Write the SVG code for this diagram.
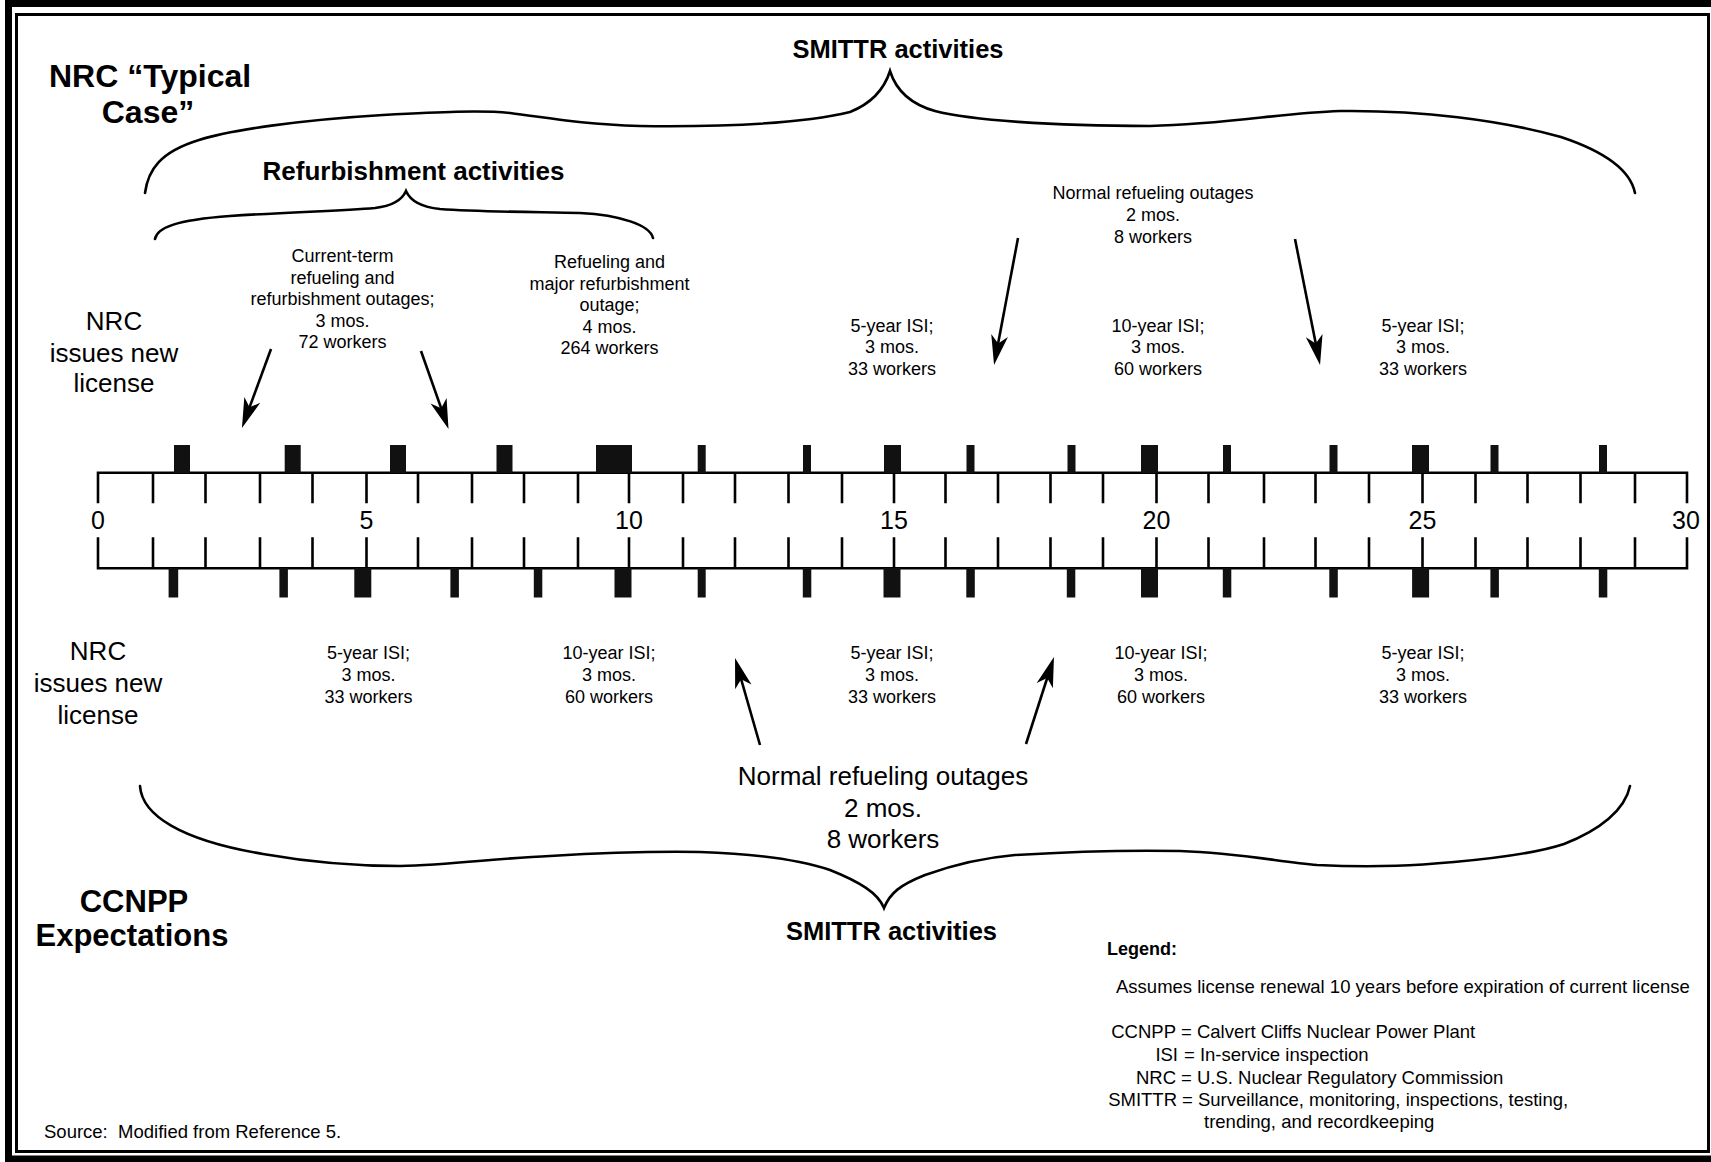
<svg xmlns="http://www.w3.org/2000/svg" width="1711" height="1162" viewBox="0 0 1711 1162">
<style>
text{font-family:"Liberation Sans",Arial,Helvetica,sans-serif;fill:#000}
.s{font-size:18px}
.m{font-size:26px}
.lg{font-size:18.5px}
.b{font-weight:bold}
.c{text-anchor:middle}
.e{text-anchor:end}
.ln{stroke:#000;stroke-width:2.6;fill:none}
.br{stroke:#000;stroke-width:2.6;fill:none;stroke-linecap:round}
.ar{stroke:#000;stroke-width:2.6;fill:none;marker-end:url(#ah)}
.mk{fill:#111}
</style>
<defs>
<marker id="ah" markerUnits="userSpaceOnUse" viewBox="-22 -10 34 20" markerWidth="34" markerHeight="20" refX="0" refY="0" orient="auto">
<path d="M10,0 L-20,-8.5 L-12,0 L-20,8.5 Z" fill="#000"/>
</marker>
</defs>
<rect width="1711" height="1162" fill="#fff"/>
<g id="frame">
<rect x="8.5" y="3.5" width="1712" height="1155.5" fill="none" stroke="#000" stroke-width="7"/>
<rect x="16.5" y="14.5" width="1692" height="1137" fill="none" stroke="#000" stroke-width="3"/>
</g>

<g id="title-nrc">
<text class="b" x="49" y="87" font-size="32">NRC “Typical</text>
<text class="b c" x="148" y="123" font-size="32">Case”</text>
</g>
<g id="title-ccnpp">
<text class="b c" x="134" y="912" font-size="31">CCNPP</text>
<text class="b c" x="132" y="946" font-size="31">Expectations</text>
</g>

<g id="smittr-top"><text class="b c" x="898" y="58" font-size="25.5">SMITTR activities</text></g>
<g id="refurb"><text class="b c" x="413.5" y="180" font-size="26">Refurbishment activities</text></g>
<g id="smittr-bottom"><text class="b c" x="891.5" y="940" font-size="25.5">SMITTR activities</text></g>

<g id="nrc-top" class="m">
<text class="c m" x="114" y="330">NRC</text>
<text class="c m" x="114" y="361.5">issues new</text>
<text class="c m" x="114" y="392">license</text>
</g>
<g id="nrc-bottom">
<text class="c m" x="98" y="660">NRC</text>
<text class="c m" x="98" y="692">issues new</text>
<text class="c m" x="98" y="724">license</text>
</g>

<g id="current-term">
<text class="s c" x="342.5" y="262">Current-term</text>
<text class="s c" x="342.5" y="283.5">refueling and</text>
<text class="s c" x="342.5" y="305">refurbishment outages;</text>
<text class="s c" x="342.5" y="326.5">3 mos.</text>
<text class="s c" x="342.5" y="348">72 workers</text>
</g>
<g id="major-refurb">
<text class="s c" x="609.5" y="268">Refueling and</text>
<text class="s c" x="609.5" y="289.5">major refurbishment</text>
<text class="s c" x="609.5" y="311">outage;</text>
<text class="s c" x="609.5" y="332.5">4 mos.</text>
<text class="s c" x="609.5" y="354">264 workers</text>
</g>
<g id="normal-top">
<text class="s c" x="1153" y="199">Normal refueling outages</text>
<text class="s c" x="1153" y="221">2 mos.</text>
<text class="s c" x="1153" y="243">8 workers</text>
</g>
<g id="isi-top-15">
<text class="s c" x="892" y="331.5">5-year ISI;</text>
<text class="s c" x="892" y="353">3 mos.</text>
<text class="s c" x="892" y="374.5">33 workers</text>
</g>
<g id="isi-top-20">
<text class="s c" x="1158" y="331.5">10-year ISI;</text>
<text class="s c" x="1158" y="353">3 mos.</text>
<text class="s c" x="1158" y="374.5">60 workers</text>
</g>
<g id="isi-top-25">
<text class="s c" x="1423" y="331.5">5-year ISI;</text>
<text class="s c" x="1423" y="353">3 mos.</text>
<text class="s c" x="1423" y="374.5">33 workers</text>
</g>

<g id="isi-bot-5">
<text class="s c" x="368.5" y="659">5-year ISI;</text>
<text class="s c" x="368.5" y="681">3 mos.</text>
<text class="s c" x="368.5" y="703">33 workers</text>
</g>
<g id="isi-bot-10">
<text class="s c" x="609" y="659">10-year ISI;</text>
<text class="s c" x="609" y="681">3 mos.</text>
<text class="s c" x="609" y="703">60 workers</text>
</g>
<g id="isi-bot-15">
<text class="s c" x="892" y="659">5-year ISI;</text>
<text class="s c" x="892" y="681">3 mos.</text>
<text class="s c" x="892" y="703">33 workers</text>
</g>
<g id="isi-bot-20">
<text class="s c" x="1161" y="659">10-year ISI;</text>
<text class="s c" x="1161" y="681">3 mos.</text>
<text class="s c" x="1161" y="703">60 workers</text>
</g>
<g id="isi-bot-25">
<text class="s c" x="1423" y="659">5-year ISI;</text>
<text class="s c" x="1423" y="681">3 mos.</text>
<text class="s c" x="1423" y="703">33 workers</text>
</g>
<g id="normal-bottom">
<text class="m c" x="883" y="785">Normal refueling outages</text>
<text class="m c" x="883" y="816.5">2 mos.</text>
<text class="m c" x="883" y="848">8 workers</text>
</g>

<g id="timeline">
<path class="ln" d="M98,503.3 V472.7 H1687 V503.3 M98,537.3 V568.3 H1687 V537.3"/>
<path class="ln" d="M153,472.7V503.3M205.5,472.7V503.3M260,472.7V503.3M312.5,472.7V503.3M366.5,472.7V503.3M418,472.7V503.3M472,472.7V503.3M524,472.7V503.3M578,472.7V503.3M629,472.7V503.3M683,472.7V503.3M735,472.7V503.3M788.5,472.7V503.3M842,472.7V503.3M894,472.7V503.3M945.5,472.7V503.3M998,472.7V503.3M1050.5,472.7V503.3M1103,472.7V503.3M1156.5,472.7V503.3M1208.5,472.7V503.3M1264,472.7V503.3M1315.5,472.7V503.3M1369,472.7V503.3M1422.5,472.7V503.3M1475.5,472.7V503.3M1527.5,472.7V503.3M1580.5,472.7V503.3M1635,472.7V503.3"/>
<path class="ln" d="M153,537.3V568.3M205.5,537.3V568.3M260,537.3V568.3M312.5,537.3V568.3M366.5,537.3V568.3M418,537.3V568.3M472,537.3V568.3M524,537.3V568.3M578,537.3V568.3M629,537.3V568.3M683,537.3V568.3M735,537.3V568.3M788.5,537.3V568.3M842,537.3V568.3M894,537.3V568.3M945.5,537.3V568.3M998,537.3V568.3M1050.5,537.3V568.3M1103,537.3V568.3M1156.5,537.3V568.3M1208.5,537.3V568.3M1264,537.3V568.3M1315.5,537.3V568.3M1369,537.3V568.3M1422.5,537.3V568.3M1475.5,537.3V568.3M1527.5,537.3V568.3M1580.5,537.3V568.3M1635,537.3V568.3"/>
<g font-size="25">
<text class="c" x="98" y="529">0</text>
<text class="c" x="366.5" y="529">5</text>
<text class="c" x="629" y="529">10</text>
<text class="c" x="894" y="529">15</text>
<text class="c" x="1156.5" y="529">20</text>
<text class="c" x="1422.5" y="529">25</text>
<text class="c" x="1686" y="529">30</text>
</g>
</g>

<g id="outages-top">
<rect class="mk" x="174" y="445" width="16" height="28"/>
<rect class="mk" x="284.7" y="445" width="16" height="28"/>
<rect class="mk" x="390" y="445" width="16" height="28"/>
<rect class="mk" x="496.5" y="445" width="16" height="28"/>
<rect class="mk" x="596" y="445" width="36" height="28"/>
<rect class="mk" x="697.7" y="445" width="8" height="28"/>
<rect class="mk" x="803" y="445" width="8" height="28"/>
<rect class="mk" x="884" y="445" width="17" height="28"/>
<rect class="mk" x="966.5" y="445" width="8" height="28"/>
<rect class="mk" x="1067.5" y="445" width="8" height="28"/>
<rect class="mk" x="1141" y="445" width="17" height="28"/>
<rect class="mk" x="1223" y="445" width="8" height="28"/>
<rect class="mk" x="1329.5" y="445" width="8" height="28"/>
<rect class="mk" x="1412" y="445" width="17" height="28"/>
<rect class="mk" x="1490.5" y="445" width="8" height="28"/>
<rect class="mk" x="1599" y="445" width="8" height="28"/>
</g>
<g id="outages-bottom">
<rect class="mk" x="168.6" y="568" width="9.6" height="29.5"/>
<rect class="mk" x="279.4" y="568" width="8.5" height="29.5"/>
<rect class="mk" x="354.3" y="568" width="17" height="29.5"/>
<rect class="mk" x="450.4" y="568" width="8.5" height="29.5"/>
<rect class="mk" x="533.8" y="568" width="8.5" height="29.5"/>
<rect class="mk" x="614.5" y="568" width="17" height="29.5"/>
<rect class="mk" x="697.7" y="568" width="8" height="29.5"/>
<rect class="mk" x="802.8" y="568" width="8.5" height="29.5"/>
<rect class="mk" x="883.5" y="568" width="17" height="29.5"/>
<rect class="mk" x="966.3" y="568" width="8.5" height="29.5"/>
<rect class="mk" x="1066.8" y="568" width="8.5" height="29.5"/>
<rect class="mk" x="1141" y="568" width="17" height="29.5"/>
<rect class="mk" x="1222.8" y="568" width="8.5" height="29.5"/>
<rect class="mk" x="1329.3" y="568" width="8.5" height="29.5"/>
<rect class="mk" x="1412.1" y="568" width="17" height="29.5"/>
<rect class="mk" x="1490.4" y="568" width="8.5" height="29.5"/>
<rect class="mk" x="1598.8" y="568" width="8.5" height="29.5"/>
</g>

<g id="connectors">
<path class="br" d="M145,193 C148,170 160,152 199,140 C230,130 300,120 383,115 C440,112 480,110 510,113 C550,118 580,124 640,126 C720,127 800,124 850,112 C870,104 884,90 890,71 C896,90 910,104 935,111 C970,120 1050,126 1150,126 C1230,124 1280,113 1340,111 C1420,110 1500,120 1561,137 C1600,150 1630,168 1635,193"/>
<path class="br" d="M155,239 C157,228 175,220 230,216 C290,212 340,211 375,208 C392,206 402,200 406,191 C410,200 420,207 440,209 C480,212 540,212 580,213 C620,215 650,225 653,238"/>
<path class="br" d="M140,786 C142,815 180,840 263,854 C320,864 360,866 400,866 C450,865 500,858 550,856 C600,853 640,851 700,852 C760,854 800,860 830,870 C860,882 878,893 884,908 C890,893 900,885 925,875 C950,866 980,858 1015,855 C1080,851 1130,850 1180,851 C1240,853 1280,862 1317,865 C1380,868 1420,865 1454,862 C1510,857 1540,852 1564,844 C1600,830 1625,810 1630,786"/>
<path class="ar" d="M271,349 L245.4,418.6"/>
<path class="ar" d="M421,351 L445.2,419.6"/>
<path class="ar" d="M1018,238 L995.9,355.2"/>
<path class="ar" d="M1295,239 L1318.1,355.2"/>
<path class="ar" d="M760,745 L737.8,667.6"/>
<path class="ar" d="M1026,744 L1050.9,666.5"/>
</g>

<g id="legend">
<text class="s b" x="1107" y="955">Legend:</text>
<text class="lg" x="1116" y="993">Assumes license renewal 10 years before expiration of current license</text>
<text class="lg e" x="1176" y="1038">CCNPP</text>
<text class="lg" x="1181" y="1038">= Calvert Cliffs Nuclear Power Plant</text>
<text class="lg e" x="1178" y="1061">ISI</text>
<text class="lg" x="1184" y="1061">= In-service inspection</text>
<text class="lg e" x="1176" y="1084">NRC</text>
<text class="lg" x="1181" y="1084">= U.S. Nuclear Regulatory Commission</text>
<text class="lg e" x="1177" y="1106">SMITTR</text>
<text class="lg" x="1182" y="1106">= Surveillance, monitoring, inspections, testing,</text>
<text class="lg" x="1204" y="1128">trending, and recordkeeping</text>
</g>
<g id="source"><text class="lg" x="44" y="1138">Source:&#160; Modified from Reference 5.</text></g>
</svg>
